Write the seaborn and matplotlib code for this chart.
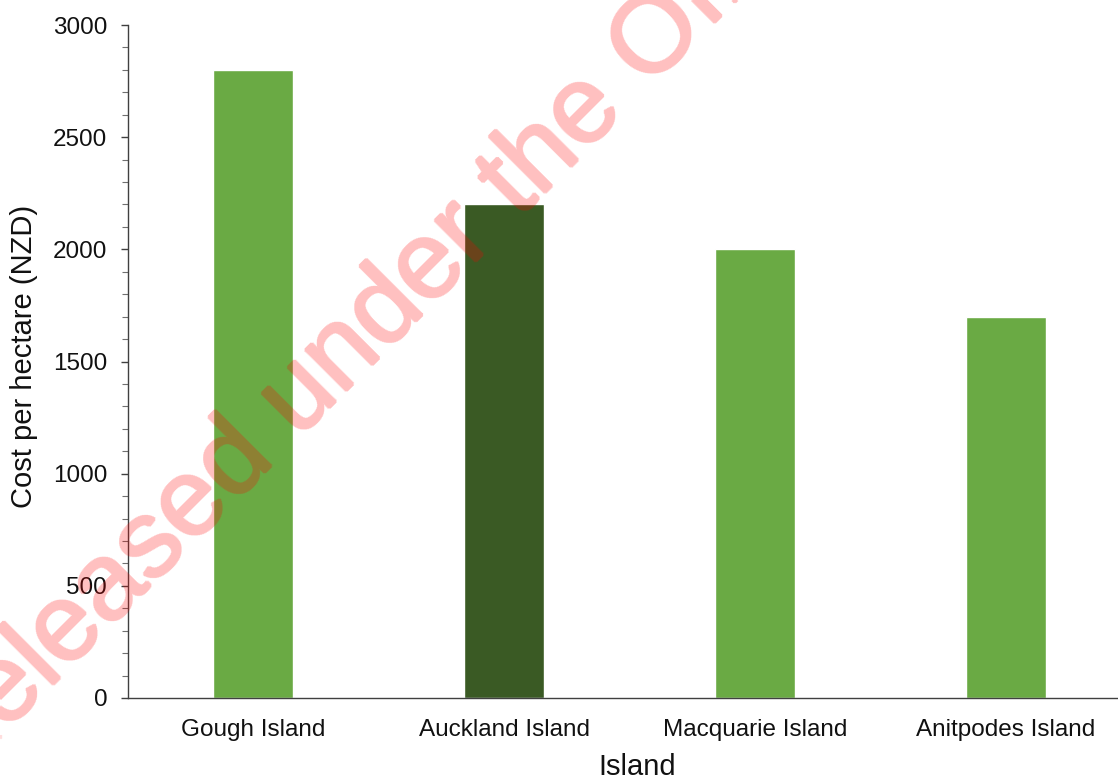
import matplotlib
matplotlib.use("Agg")
import numpy as np
import matplotlib.pyplot as plt
import seaborn as sns
import pandas as pd
from matplotlib.ticker import MultipleLocator

# Eradication cost per hectare for each island
islands = ["Gough Island", "Auckland Island", "Macquarie Island", "Anitpodes Island"]
cost_per_ha = [2800, 2200, 2000, 1700]
bar_colors = ["#6aaa44", "#3a5a24", "#6aaa44", "#6aaa44"]

sns.set_style("white")
plt.rcParams["font.family"] = ["Liberation Sans", "DejaVu Sans"]
plt.rcParams["text.color"] = "#111111"
plt.rcParams["axes.labelcolor"] = "#111111"
plt.rcParams["xtick.labelcolor"] = "#111111"
plt.rcParams["ytick.labelcolor"] = "#111111"

W, H = 1118, 779
fig = plt.figure(figsize=(W / 100, H / 100), dpi=100)
ax = fig.add_axes([128 / W, 1 - 698 / H, 1003 / W, 673 / H])

df = pd.DataFrame({"Island": islands, "Cost": cost_per_ha})
sns.barplot(data=df, x="Island", y="Cost", hue="Island", palette=bar_colors,
            width=0.32, saturation=1, legend=False, ax=ax)

ax.set_xlim(-0.5, 3.5)
ax.set_ylim(0, 3000)
ax.yaxis.set_major_locator(MultipleLocator(500))
ax.yaxis.set_minor_locator(MultipleLocator(100))
ax.tick_params(axis="y", which="major", direction="out", length=5, width=1,
               color="#404040", labelsize=17.5, pad=10, left=True)
ax.tick_params(axis="y", which="minor", direction="out", length=4, width=0.8,
               color="#707070", left=True)
ax.tick_params(axis="x", length=0, labelsize=17.5, pad=15)

sns.despine(ax=ax)
for side in ("left", "bottom"):
    ax.spines[side].set_color("#404040")
    ax.spines[side].set_linewidth(1)

ax.set_xlabel("Island", fontsize=21)
ax.set_ylabel("Cost per hectare (NZD)", fontsize=21)
ax.xaxis.set_label_coords(0.508, -0.081)
ax.yaxis.set_label_coords(-0.090, 0.508)


def stamp_filter(im, dpi, pad=2, opacity=0.25):
    """Thicken the glyphs slightly and lay them down as translucent red."""
    alpha = np.pad(im[..., 3], pad)
    grown = alpha.copy()
    for dy in (-1, 0, 1):
        for dx in (-1, 0, 1):
            grown = np.maximum(grown, np.roll(np.roll(alpha, dy, 0), dx, 1))
    out = np.zeros(grown.shape + (4,), dtype=im.dtype)
    out[..., 0] = 1.0
    out[..., 3] = grown * opacity
    return out, -pad, -pad


# Release stamp across the page
stamp = fig.text(-0.045, -0.012, "Released under the Official Information Act",
                 rotation=45, rotation_mode="anchor", ha="left", va="baseline",
                 fontsize=79, color="red", zorder=10)
stamp.set_agg_filter(stamp_filter)

fig.savefig("out.png", dpi=100)
